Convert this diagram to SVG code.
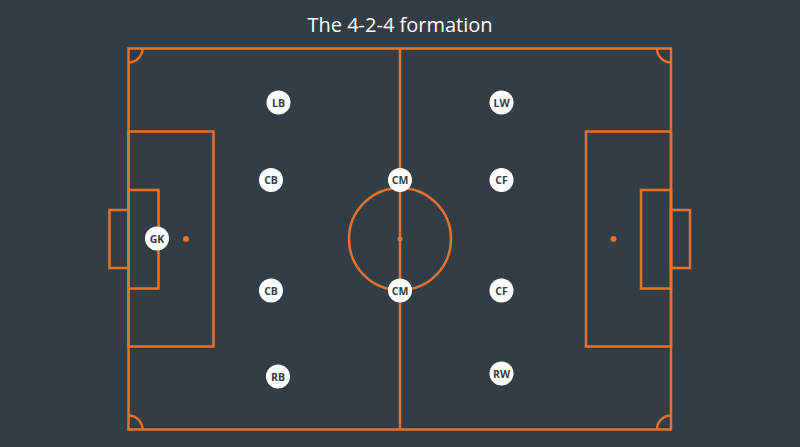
<svg xmlns="http://www.w3.org/2000/svg" width="800" height="447" viewBox="0 0 800 447">
<style>
.ln{fill:none;stroke:#e8722a;stroke-width:2.5}
.dot{fill:#e8722a}
.pl circle{fill:#ffffff}
.pl text{font-family:"Open Sans",Lato,sans-serif;font-weight:700;font-size:10.5px;fill:#333d46;text-anchor:middle;dominant-baseline:central}
.title{font-family:"Open Sans",Lato,sans-serif;font-size:20px;fill:#ffffff;text-anchor:middle}
</style>
<rect width="800" height="447" fill="#333d46"/>
<text class="title" x="400" y="32">The 4-2-4 formation</text>
<g id="pitch">
<rect class="ln" x="128.5" y="48.5" width="542.5" height="381"/>
<line class="ln" x1="400" y1="48.5" x2="400" y2="429.5"/>
<circle class="ln" cx="400" cy="239" r="51"/>
<circle class="dot" cx="400" cy="239" r="2.5"/>
<rect class="ln" x="128.5" y="131.5" width="85" height="215"/>
<rect class="ln" x="128.5" y="190" width="30" height="98.5"/>
<rect class="ln" x="109.5" y="210" width="19" height="58"/>
<circle class="dot" cx="186" cy="239" r="3"/>
<rect class="ln" x="586" y="131.5" width="85" height="215"/>
<rect class="ln" x="641" y="190" width="30" height="98.5"/>
<rect class="ln" x="671" y="210" width="19" height="58"/>
<circle class="dot" cx="613.5" cy="239" r="3"/>
<path class="ln" d="M128.5,62.5 A14,14 0 0 0 142.5,48.5"/>
<path class="ln" d="M657,48.5 A14,14 0 0 0 671,62.5"/>
<path class="ln" d="M128.5,415.5 A14,14 0 0 1 142.5,429.5"/>
<path class="ln" d="M657,429.5 A14,14 0 0 1 671,415.5"/>
</g>
<g id="connectors"></g>
<g id="GK" class="pl"><circle cx="157" cy="238.5" r="12"/><text x="157" y="238.5">GK</text></g>
<g id="LB" class="pl"><circle cx="278.5" cy="102.5" r="12"/><text x="278.5" y="102.5">LB</text></g>
<g id="CB1" class="pl"><circle cx="271" cy="180" r="12"/><text x="271" y="180">CB</text></g>
<g id="CB2" class="pl"><circle cx="271" cy="290.5" r="12"/><text x="271" y="290.5">CB</text></g>
<g id="RB" class="pl"><circle cx="278" cy="376.5" r="12"/><text x="278" y="376.5">RB</text></g>
<g id="CM1" class="pl"><circle cx="400" cy="180" r="12"/><text x="400" y="180">CM</text></g>
<g id="CM2" class="pl"><circle cx="400" cy="290.5" r="12"/><text x="400" y="290.5">CM</text></g>
<g id="LW" class="pl"><circle cx="501.5" cy="102.5" r="12"/><text x="501.5" y="102.5">LW</text></g>
<g id="CF1" class="pl"><circle cx="501.5" cy="180" r="12"/><text x="501.5" y="180">CF</text></g>
<g id="CF2" class="pl"><circle cx="501.5" cy="290.5" r="12"/><text x="501.5" y="290.5">CF</text></g>
<g id="RW" class="pl"><circle cx="501.5" cy="373.5" r="12"/><text x="501.5" y="373.5">RW</text></g>
</svg>
